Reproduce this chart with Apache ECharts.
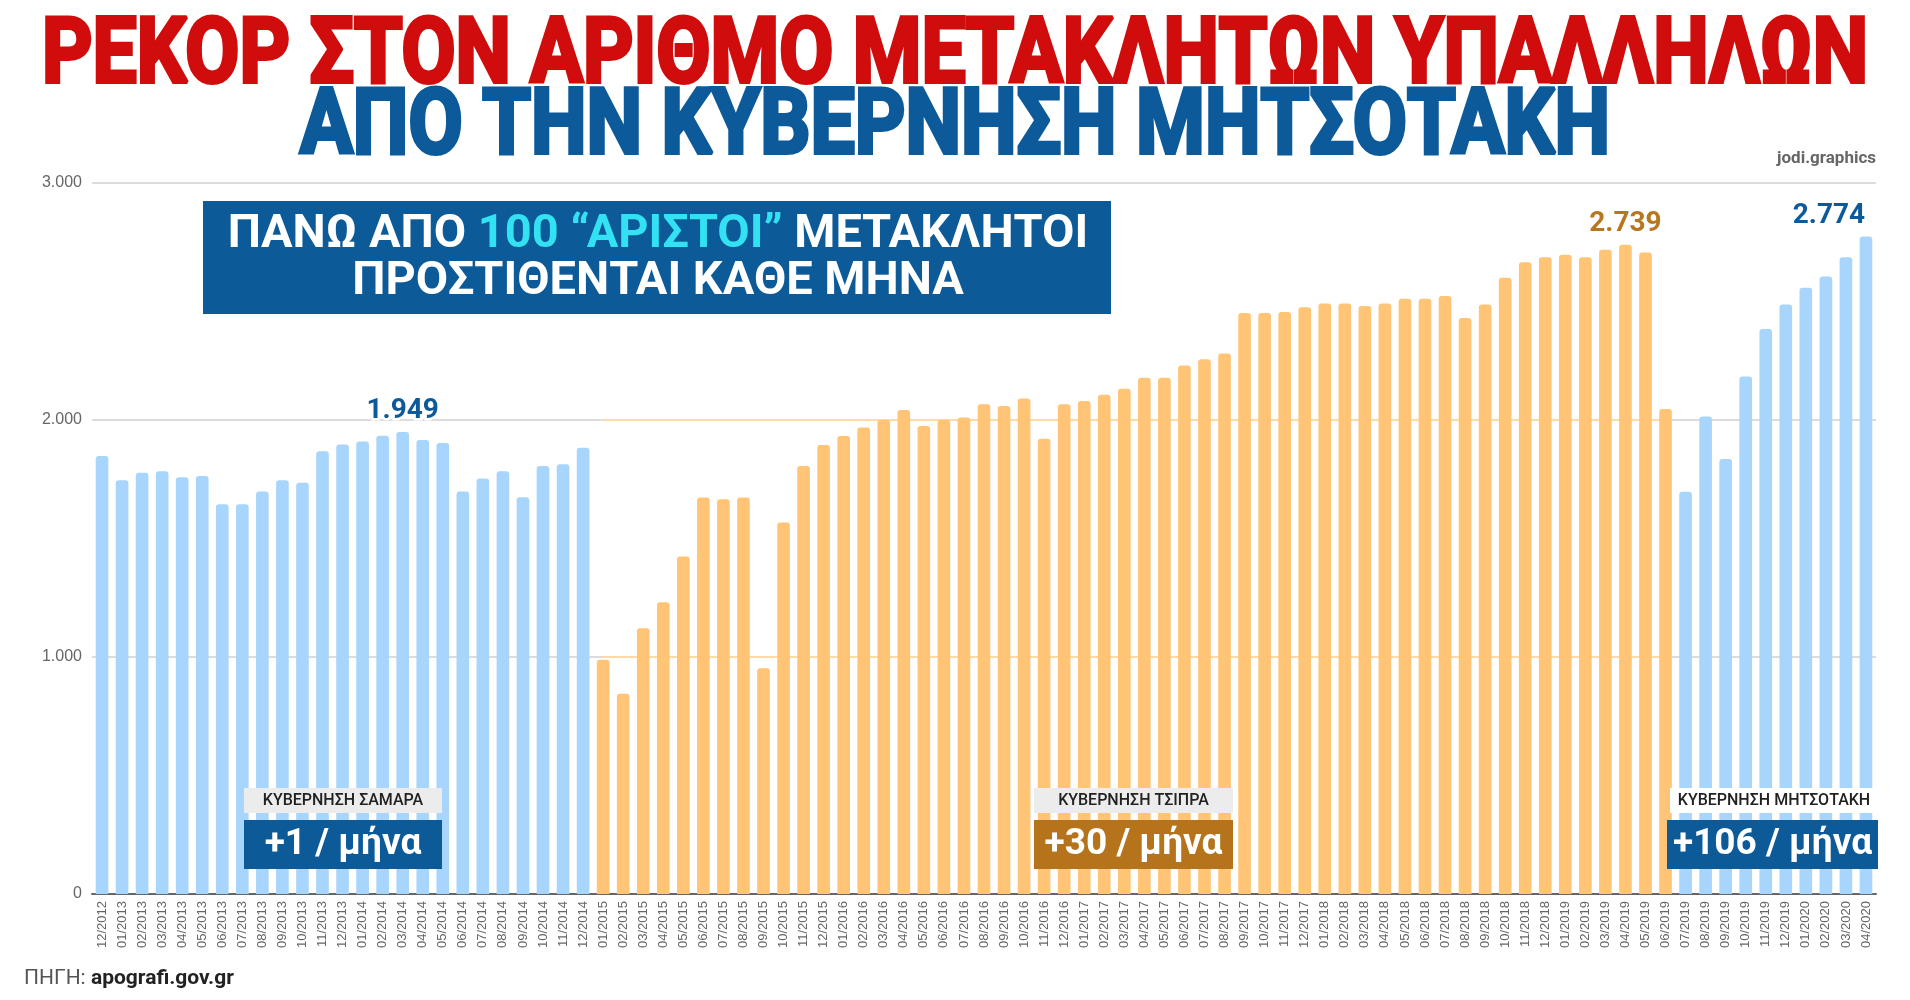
<!DOCTYPE html>
<html><head><meta charset="utf-8">
<script src="https://cdn.jsdelivr.net/npm/echarts@6/dist/echarts.min.js"></script>
<style>html,body{margin:0;padding:0;background:#fff}#c{width:1910px;height:1000px}</style>
</head><body><div id="c"></div>
<script>
const categories = [
 '12/2012',
 '01/2013','02/2013','03/2013','04/2013','05/2013','06/2013','07/2013','08/2013','09/2013','10/2013','11/2013','12/2013',
 '01/2014','02/2014','03/2014','04/2014','05/2014','06/2014','07/2014','08/2014','09/2014','10/2014','11/2014','12/2014',
 '01/2015','02/2015','03/2015','04/2015','05/2015','06/2015','07/2015','08/2015','09/2015','10/2015','11/2015','12/2015',
 '01/2016','02/2016','03/2016','04/2016','05/2016','06/2016','07/2016','08/2016','09/2016','10/2016','11/2016','12/2016',
 '01/2017','02/2017','03/2017','04/2017','05/2017','06/2017','07/2017','08/2017','09/2017','10/2017','11/2017','12/2017',
 '01/2018','02/2018','03/2018','04/2018','05/2018','06/2018','07/2018','08/2018','09/2018','10/2018','11/2018','12/2018',
 '01/2019','02/2019','03/2019','04/2019','05/2019','06/2019','07/2019','08/2019','09/2019','10/2019','11/2019','12/2019',
 '01/2020','02/2020','03/2020','04/2020'
];
// 12/2012 - 12/2014
const samarasValues = [1848,1746,1777,1784,1758,1764,1644,1644,1698,1746,1735,1868,1897,1909,1934,1949,1916,1903,1698,1753,1784,1674,1806,1813,1883];
// 01/2015 - 06/2019
const tsiprasValues = [988,845,1121,1231,1424,1673,1666,1673,953,1568,1806,1895,1933,1968,2000,2042,1975,2000,2011,2066,2059,2091,1921,2066,
 2080,2107,2132,2178,2178,2230,2256,2281,2451,2451,2456,2476,2492,2492,2481,2492,2512,2512,2523,2430,2487,2600,2666,2687,2697,2687,2718,2739,2707,2046];
// 07/2019 - 04/2020
const mitsotakisValues = [1697,2015,1835,2184,2384,2487,2558,2605,2687,2774];
const labelledMonths = ['03/2014','04/2019','04/2020'];

const fmt = v => String(v).replace(/\B(?=(\d{3})+(?!\d))/g,'.');

function pad(vals, start){
  const arr = categories.map(()=>'-');
  vals.forEach((v,i)=>{
    const idx = start+i;
    if (labelledMonths.includes(categories[idx])) {
      const lab = {show:true};
      if (idx === categories.length-1) lab.offset = [-37,0];
      arr[idx] = {value:v, label:lab};
    }
    else arr[idx] = v;
  });
  return arr;
}
const BLUE = '#a7d5fb', ORANGE = '#ffc476';
const labelBase = {show:false, position:'top', distance:7, fontFamily:'Roboto', fontWeight:'bold', fontSize:28,
  textBorderColor:'#fff', textBorderWidth:5, formatter: p => fmt(p.value)};

const chart = echarts.init(document.getElementById('c'));
const title1 = 'ΡΕΚΟΡ ΣΤΟΝ ΑΡΙΘΜΟ ΜΕΤΑΚΛΗΤΩΝ ΥΠΑΛΛΗΛΩΝ';
const title2 = 'ΑΠΟ ΤΗΝ ΚΥΒΕΡΝΗΣΗ ΜΗΤΣΟΤΑΚΗ';
const tFont = 'bold 90px Roboto';
const ctx = document.createElement('canvas').getContext('2d');
ctx.font = tFont;
const sx1 = 1826 / ctx.measureText(title1).width;
const sx2 = 1310 / ctx.measureText(title2).width;

function titleText(text, y, color, sx){
  return [
    {type:'text', x:955, y:y, z:10, scaleX:sx, style:{text:text, font:tFont, fill:'#fff', stroke:'#fff', lineWidth:12, textAlign:'center', textVerticalAlign:'middle', shadowBlur:14, shadowColor:'rgba(0,0,0,0.35)', shadowOffsetY:5}},
    {type:'text', x:955, y:y, z:11, scaleX:sx, style:{text:text, font:tFont, fill:color, stroke:color, lineWidth:4, textAlign:'center', textVerticalAlign:'middle'}}
  ];
}
function tag(x, y, w, text, bg){
  return [{type:'rect', shape:{x:x,y:y,width:w,height:25}, style:{fill:bg}, z:50},
   {type:'text', x:x+w/2, y:y+13, style:{text:text, font:'500 16px Roboto', fill:'#222', textAlign:'center', textVerticalAlign:'middle'}, z:51}];
}
function badge(x, y, w, color, text){
  return [{type:'rect', shape:{x:x,y:y,width:w,height:49}, style:{fill:color}, z:50},
   {type:'text', x:x+w/2, y:y+25, style:{text:text, font:'bold 37px Roboto', fill:'#fff', textAlign:'center', textVerticalAlign:'middle'}, z:51}];
}

chart.setOption({
  animation:false,
  grid:{left:92, right:34, top:183, bottom:106, containLabel:false},
  xAxis:{type:'category', data:categories,
    axisLine:{lineStyle:{color:'#666', width:2}}, axisTick:{show:false},
    axisLabel:{rotate:90, interval:0, fontSize:13, color:'#666', fontFamily:'Liberation Sans', margin:7}},
  yAxis:{type:'value', min:0, max:3000, interval:1000,
    axisLabel:{color:'#666', fontSize:16, fontFamily:'Liberation Sans', margin:10, formatter:v=>fmt(v)},
    splitLine:{lineStyle:{color:'#dcdcdc', width:2}}, axisLine:{show:false}, axisTick:{show:false}},
  series:[
    {name:'Σαμαράς', type:'bar', stack:'g', data:pad(samarasValues,0), barWidth:'63%',
      itemStyle:{color:BLUE, borderRadius:[3,3,0,0]}, label:Object.assign({}, labelBase, {color:'#0c5a9a'})},
    {name:'Τσίπρας', type:'bar', stack:'g', data:pad(tsiprasValues,25), barWidth:'63%',
      itemStyle:{color:ORANGE, borderRadius:[3,3,0,0]}, label:Object.assign({}, labelBase, {color:'#b8761e'}),
      markLine:{silent:true, symbol:'none', label:{show:false}, z:1,
        lineStyle:{color:'#ffd9a6', width:2, type:'solid'},
        data:[[{coord:['01/2015',2000]},{coord:['06/2019',2000]}],[{coord:['01/2015',1000]},{coord:['06/2019',1000]}]]}},
    {name:'Μητσοτάκης', type:'bar', stack:'g', data:pad(mitsotakisValues,79), barWidth:'63%',
      itemStyle:{color:BLUE, borderRadius:[3,3,0,0]}, label:Object.assign({}, labelBase, {color:'#0c5a9a'})}
  ],
  graphic:[
    ...titleText(title1, 59, '#d00c0c', sx1),
    ...titleText(title2, 130, '#0c5a9a', sx2),
    {type:'text', x:1876, y:159, z:20, style:{text:'jodi.graphics', font:'bold 17px Roboto', fill:'#666', textAlign:'right', textVerticalAlign:'middle'}},
    {type:'rect', shape:{x:203,y:201,width:908,height:113}, style:{fill:'#0d5a98'}, z:40},
    {type:'text', x:658, y:235, z:41, style:{text:'{w|ΠΑΝΩ ΑΠΟ }{c|100 “ΑΡΙΣΤΟΙ”}{w| ΜΕΤΑΚΛΗΤΟΙ}', textAlign:'center', textVerticalAlign:'middle',
       rich:{w:{font:'bold 47px Roboto', fill:'#fff'}, c:{font:'bold 47px Roboto', fill:'#33e2f2'}}}},
    {type:'text', x:658, y:282, z:41, style:{text:'ΠΡΟΣΤΙΘΕΝΤΑΙ ΚΑΘΕ ΜΗΝΑ', font:'bold 47px Roboto', fill:'#fff', textAlign:'center', textVerticalAlign:'middle'}},
    ...tag(244,788,198,'ΚΥΒΕΡΝΗΣΗ ΣΑΜΑΡΑ','#ececec'),
    ...badge(244,820,198,'#0d5a98','+1 / μήνα'),
    ...tag(1034,788,199,'ΚΥΒΕΡΝΗΣΗ ΤΣΙΠΡΑ','#ececec'),
    ...badge(1034,820,199,'#b5731c','+30 / μήνα'),
    ...tag(1670,788,208,'ΚΥΒΕΡΝΗΣΗ ΜΗΤΣΟΤΑΚΗ','#fff'),
    ...badge(1667,820,211,'#0d5a98','+106 / μήνα'),
    {type:'text', x:24, y:979, style:{text:'{a|ΠΗΓΗ: }{b|apografi.gov.gr}', textVerticalAlign:'middle',
       rich:{a:{font:'21px Roboto', fill:'#555'}, b:{font:'bold 21px Roboto', fill:'#222'}}}}
  ]
});
</script></body></html>
